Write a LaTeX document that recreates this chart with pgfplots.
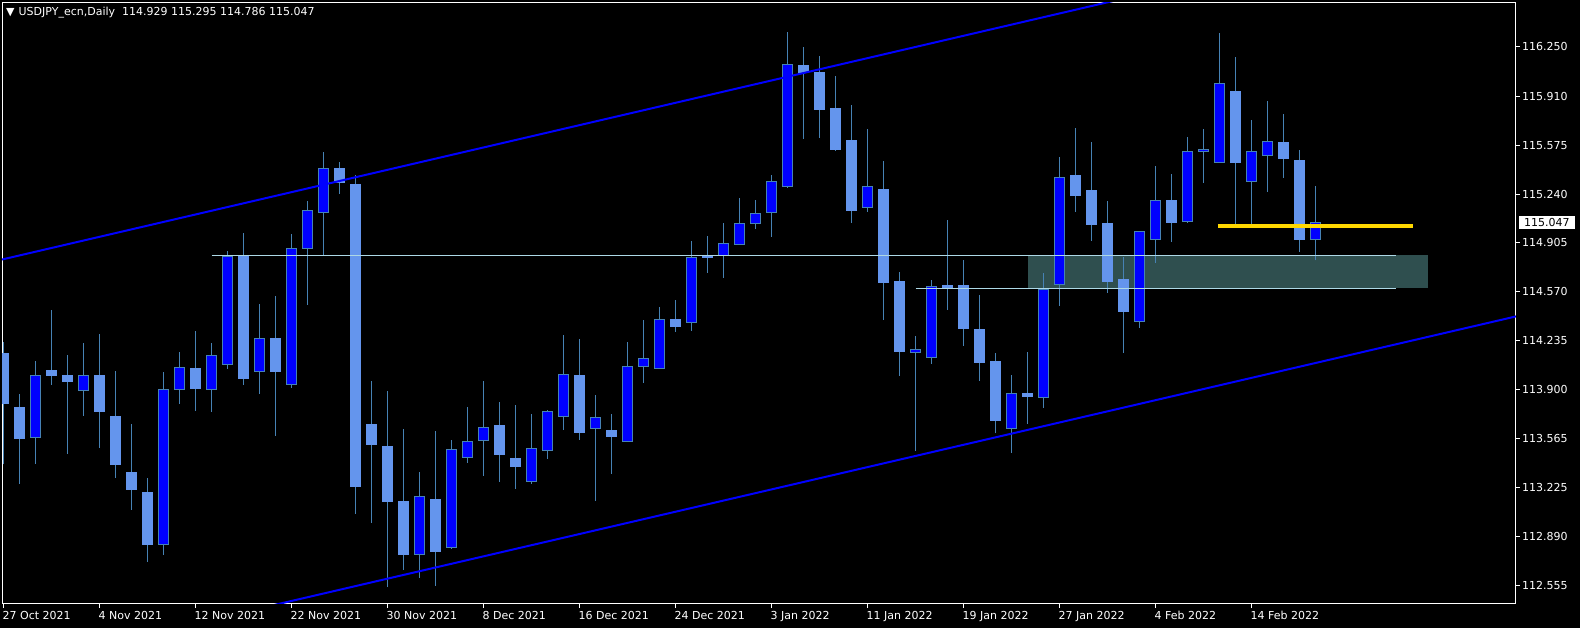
\documentclass[border=0pt]{standalone}
\usepackage{fontspec}
\setmainfont{DejaVu Sans}
\usepackage{pgfplots}
\usepackage{pgfplotstable}
\pgfplotsset{compat=1.18}

\definecolor{bullfill}{RGB}{0,0,255}
\definecolor{wickcol}{RGB}{70,130,180}
\definecolor{bearfill}{RGB}{100,149,237}
\definecolor{zonefill}{RGB}{47,79,79}
\definecolor{levelcol}{RGB}{173,216,230}
\definecolor{goldline}{RGB}{255,215,0}
\definecolor{channel}{RGB}{0,0,255}

% daily bars, 27 Oct 2021 = 0 ... 18 Feb 2022 = 82
\pgfplotstableread{
i O H L C
0 114.148 114.228 113.387 113.805
1 113.780 113.869 113.254 113.563
2 113.572 114.095 113.392 113.997
3 114.027 114.445 113.931 113.995
4 113.993 114.137 113.460 113.954
5 113.894 114.219 113.721 113.997
6 113.999 114.280 113.501 113.748
7 113.718 114.027 113.296 113.385
8 113.334 113.664 113.076 113.213
9 113.191 113.293 112.720 112.836
10 112.839 114.020 112.768 113.901
11 113.901 114.157 113.803 114.052
12 114.047 114.301 113.755 113.906
13 113.901 114.219 113.748 114.134
14 114.073 114.849 114.043 114.815
15 114.820 114.973 113.933 113.974
16 114.025 114.486 113.871 114.251
17 114.253 114.541 113.584 114.022
18 113.935 114.966 113.913 114.868
19 114.868 115.192 114.482 115.128
20 115.115 115.528 114.820 115.416
21 115.418 115.460 115.242 115.318
22 115.302 115.370 113.049 113.234
23 113.657 113.958 112.987 113.522
24 113.506 113.890 112.546 113.131
25 113.129 113.629 112.663 112.766
26 112.768 113.334 112.610 113.168
27 113.143 113.616 112.553 112.786
28 112.818 113.554 112.809 113.490
29 113.435 113.780 113.398 113.545
30 113.552 113.958 113.309 113.641
31 113.650 113.814 113.268 113.453
32 113.424 113.794 113.220 113.371
33 113.271 113.732 113.254 113.497
34 113.483 113.759 113.426 113.750
35 113.716 114.274 113.625 114.004
36 113.993 114.246 113.556 113.604
37 113.634 113.862 113.138 113.709
38 113.616 113.732 113.323 113.577
39 113.545 114.226 113.543 114.059
40 114.059 114.376 113.947 114.114
41 114.045 114.466 114.043 114.381
42 114.383 114.514 114.296 114.331
43 114.360 114.918 114.303 114.806
44 114.815 114.952 114.701 114.804
45 114.820 115.041 114.667 114.902
46 114.895 115.213 114.893 115.039
47 115.039 115.197 115.000 115.108
48 115.114 115.370 114.948 115.327
49 115.293 116.351 115.284 116.129
50 116.124 116.248 115.619 116.074
51 116.076 116.186 115.626 115.818
52 115.823 116.049 115.537 115.544
53 115.610 115.850 115.044 115.126
54 115.149 115.686 115.119 115.293
55 115.274 115.466 114.379 114.632
56 114.637 114.705 113.995 114.159
57 114.155 114.267 113.481 114.175
58 114.121 114.651 114.077 114.607
59 114.610 115.062 114.447 114.598
60 114.610 114.788 114.200 114.317
61 114.308 114.548 113.961 114.084
62 114.089 114.150 113.600 113.686
63 113.634 113.999 113.467 113.874
64 113.876 114.157 113.666 113.851
65 113.846 114.699 113.775 114.587
66 114.621 115.494 114.475 115.354
67 115.364 115.693 115.119 115.229
68 115.261 115.597 114.920 115.030
69 115.035 115.192 114.564 114.639
70 114.651 114.808 114.153 114.434
71 114.367 114.986 114.324 114.984
72 114.929 115.432 114.769 115.197
73 115.199 115.377 114.913 115.044
74 115.051 115.631 115.044 115.533
75 115.533 115.686 115.318 115.546
76 115.457 116.344 115.455 115.999
77 115.946 116.179 115.035 115.455
78 115.327 115.747 115.035 115.533
79 115.505 115.878 115.256 115.601
80 115.590 115.789 115.352 115.482
81 115.473 115.542 114.845 114.927
82 114.929 115.295 114.786 115.047
}\candles

\begin{document}
\begin{tikzpicture}[font=\fontsize{11bp}{13bp}\selectfont]
\fill[black, use as bounding box] (-2bp,-24bp) rectangle (1578bp,604bp);
\begin{axis}[
    at={(0,0)}, anchor=south west,
    scale only axis, width=1514bp, height=601.5bp,
    xmin=-0.094, xmax=94.53,
    ymin=112.4295, ymax=116.5531,
    axis line style={white, line width=1bp},
    tick style={white, line width=1bp},
    major tick length=4bp,
    tick align=outside,
    xtick pos=left, ytick pos=right, yticklabel pos=right,
    xtick={0,6,...,78},
    xticklabels={27 Oct 2021,4 Nov 2021,12 Nov 2021,22 Nov 2021,30 Nov 2021,8 Dec 2021,16 Dec 2021,24 Dec 2021,3 Jan 2022,11 Jan 2022,19 Jan 2022,27 Jan 2022,4 Feb 2022,14 Feb 2022},
    ytick={112.555,112.890,113.225,113.565,113.900,114.235,114.570,114.905,115.240,115.575,115.910,116.250},
    yticklabels={112.555,112.890,113.225,113.565,113.900,114.235,114.570,114.905,115.240,115.575,115.910,116.250},
    every tick label/.append style={text=white, font=\fontsize{11bp}{13bp}\selectfont},
    xticklabel style={anchor=north west, inner sep=0pt, xshift=-1bp, yshift=-3bp},
    yticklabel style={anchor=west, inner sep=0pt, xshift=2bp},
    extra y ticks={115.047},
    extra y tick labels={115.047},
    extra y tick style={major tick length=0pt,
        yticklabel style={fill=white, text=black, inner xsep=5bp, inner ysep=2.4bp,
            text height=8bp, text depth=0pt, xshift=1bp}},
    wick/.style={wickcol, line width=1bp, mark=none},
    bull/.style={draw=wickcol, fill=bullfill, line width=1bp, mark=none},
    bear/.style={draw=bearfill, fill=bearfill, line width=1bp, mark=none},
]
% support / resistance zone (background)
\addplot[fill=zonefill, draw=none] coordinates {(64,114.594) (89,114.594) (89,114.820) (64,114.820)} -- cycle;

% candles
\pgfplotsinvokeforeach{0,...,82}{%
  \pgfplotstablegetelem{#1}{O}\of\candles\let\cO\pgfplotsretval
  \pgfplotstablegetelem{#1}{H}\of\candles\let\cH\pgfplotsretval
  \pgfplotstablegetelem{#1}{L}\of\candles\let\cL\pgfplotsretval
  \pgfplotstablegetelem{#1}{C}\of\candles\let\cC\pgfplotsretval
  \pgfmathsetmacro\xl{#1-0.3125}%
  \pgfmathsetmacro\xr{#1+0.3125}%
  \ifdim\cC pt<\cO pt \def\bs{bear}\else\def\bs{bull}\fi
  \edef\doit{%
    \noexpand\addplot[wick] coordinates {(#1,\cL) (#1,\cH)};
    \noexpand\addplot[\bs] coordinates {(\xl,\cO) (\xr,\cO) (\xr,\cC) (\xl,\cC)} -- cycle;}%
  \doit
}

% horizontal levels
\addplot[levelcol, line width=1bp, mark=none] coordinates {(13,114.820) (87,114.820)};
\addplot[levelcol, line width=1bp, mark=none] coordinates {(57,114.594) (87,114.594)};

% channel
\addplot[channel, line width=2bp, mark=none] coordinates {(-1,114.768) (95,117.218)};
\addplot[channel, line width=2bp, mark=none] coordinates {(-1,111.966) (95,114.413)};

% yellow level
\addplot[goldline, line width=3.5bp, mark=none] coordinates {(75.9,115.021) (88.07,115.021)};
\end{axis}
\node[anchor=base west, text=white, inner sep=0pt] at (4bp,588bp)
  {▼\hspace{4bp}USDJPY\_ecn,Daily\hspace{7bp}114.929 115.295 114.786 115.047};
\end{tikzpicture}
\end{document}
